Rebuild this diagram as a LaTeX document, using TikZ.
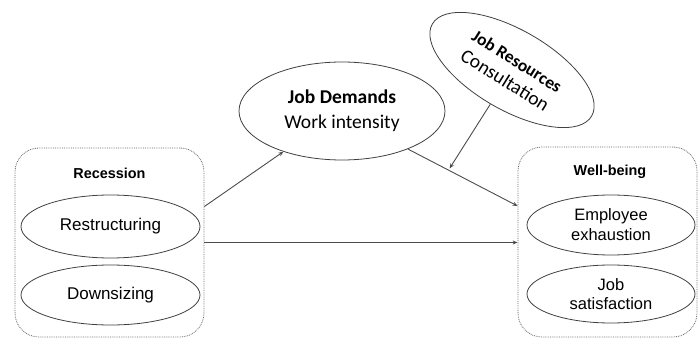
\documentclass[tikz,border=0pt]{standalone}
\usepackage{fontspec}
\setmainfont{Liberation Sans}
\newfontfamily\calibri{Carlito}
\usetikzlibrary{shapes.geometric,arrows.meta}
\begin{document}
\begin{tikzpicture}[x=1pt,y=-1pt,
  groupbox/.style={draw=black!60, densely dotted, line width=0.8pt, rounded corners=24pt, inner sep=0pt},
  item/.style={ellipse, draw=black!75, line width=0.8pt, inner sep=0pt, align=center,
    font=\fontsize{17}{20}\selectfont},
  head/.style={font=\bfseries\fontsize{14.4}{17}\selectfont},
  link/.style={draw=black!70, line width=0.9pt, -{Stealth[length=5pt,width=4pt]}}]

\useasboundingbox (0,0) rectangle (699,339);

% grouping boxes
\node[groupbox, minimum width=189pt, minimum height=189pt] (rec) at (109.5,242.5) {};
\node[groupbox, minimum width=179pt, minimum height=190pt] (wb) at (607.5,242) {};
\node[head] (rech) at (109.5,173) {Recession};
\node[head] (wbh) at (610,172) {Well-being};

% recession items
\node[item, minimum width=179pt, minimum height=63pt] (restr) at (110.5,226.5) {Restructuring};
\node[item, minimum width=179pt, minimum height=60pt] (down) at (110.5,295) {Downsizing};

% well-being items
\node[item, font=\fontsize{16.5}{20}\selectfont, minimum width=168pt, minimum height=60pt] (exh) at (611,225) {Employee\\exhaustion};
\node[item, font=\fontsize{16.5}{19}\selectfont, minimum width=168pt, minimum height=58pt] (sat) at (611,294) {Job\\satisfaction};

% demands and resources
\node[item, font=\calibri\fontsize{19.5}{25}\selectfont, minimum width=206pt, minimum height=98pt] (jd) at (342,111)
  {\textbf{Job Demands}\\Work intensity};
\node[item, rotate=-30, minimum width=184pt, minimum height=80pt] (jr) at (512,70) {};
\node[rotate=-32, align=center, inner sep=0pt, font=\calibri\fontsize{19.5}{23}\selectfont] (jrtext) at (511,71)
  {{\fontsize{17.5}{23}\selectfont\bfseries Job Resources}\\Consultation};

% paths
\draw[link] ([yshift=36pt]rec.east) -- (jd);
\draw[link] (jd.-30) -- coordinate[pos=0.37] (mid) ([yshift=36pt]wb.west);
\draw[link] (rec.east) -- (rec.east -| wb.west);
\draw[link, shorten >=2pt] (jr) -- (mid);
\end{tikzpicture}
\end{document}
